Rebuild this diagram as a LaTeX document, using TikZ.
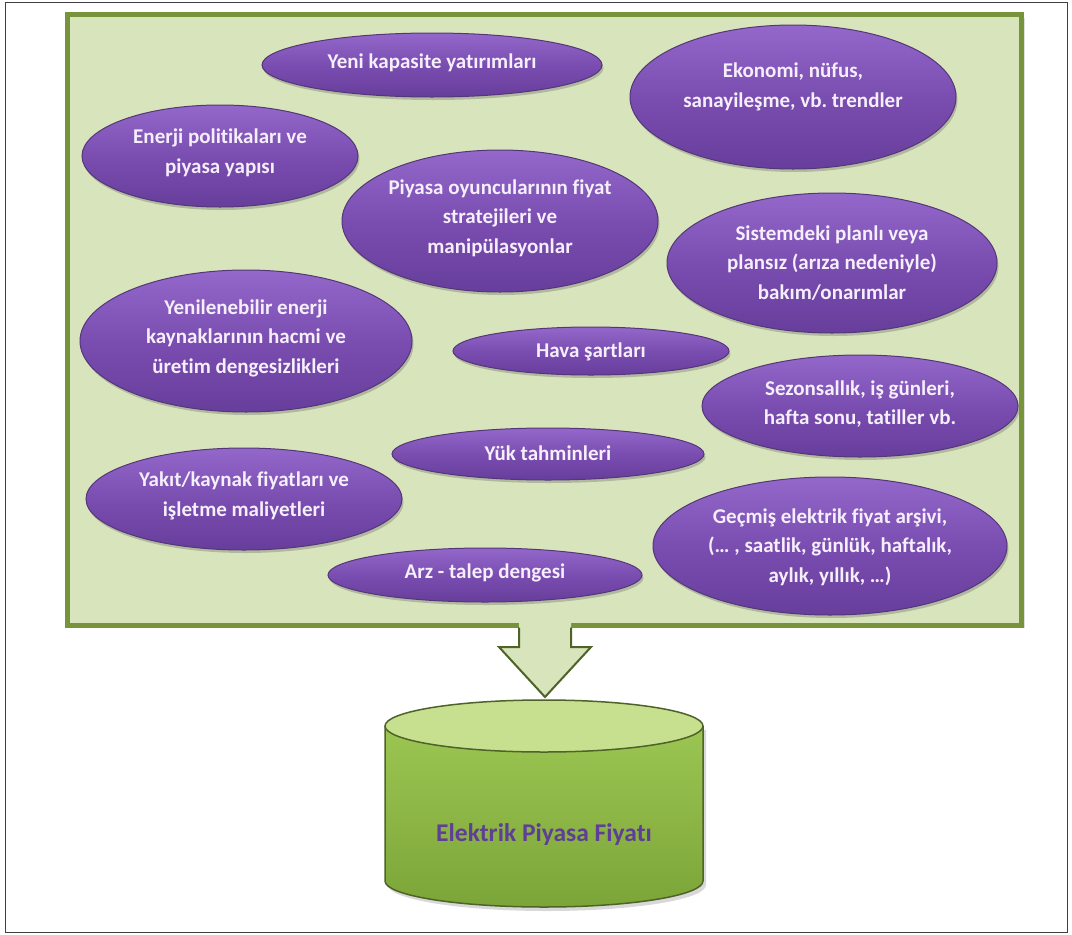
\documentclass[tikz,border=0pt]{standalone}
\usepackage{fontspec}
\setmainfont{Carlito}[Ligatures=NoCommon]
\frenchspacing
\usetikzlibrary{shapes.geometric,shadows,calc}
\definecolor{boxfill}{HTML}{D8E4BC}
\definecolor{boxline}{HTML}{77933C}
\definecolor{darkolive}{HTML}{4F6228}
\definecolor{bubtop}{HTML}{9468CA}
\definecolor{bubmid}{HTML}{7A4DB0}
\definecolor{bubbot}{HTML}{673E9C}
\definecolor{bubline}{HTML}{553779}
\definecolor{bubtext}{HTML}{F5EEFB}
\definecolor{cyltop}{HTML}{C6E08F}
\definecolor{cylbodytop}{HTML}{9CC652}
\definecolor{cylbodybot}{HTML}{7CA539}
\definecolor{pricetext}{HTML}{5E3F95}
\begin{document}
\frenchspacing
\begin{tikzpicture}[x=1pt,y=-1pt,
  bubble/.style={ellipse, draw=bubline, line width=1pt, top color=bubtop, bottom color=bubbot, middle color=bubmid, inner sep=0pt,
    drop shadow={shadow xshift=1.5pt, shadow yshift=-3pt, opacity=0.35, fill=black!60}},
  btext/.style={text=bubtext, font=\bfseries\fontsize{21}{29.5}\selectfont, align=center, inner sep=0pt},
  arrowline/.style={draw=darkolive, line width=2pt, line join=miter},
  cylline/.style={draw=darkolive, line width=1.5pt},
]
\useasboundingbox (0,0) rectangle (1072,935);
\fill[white] (0,0) rectangle (1072,935);
\draw[black!75, line width=1pt] (5,2) rectangle (1067,932);

% green frame
\draw[draw=boxline, line width=5pt, fill=boxfill, drop shadow={shadow xshift=3pt, shadow yshift=-3pt, opacity=0.25}] (67.5,14.5) rectangle (1021.5,625);

% bubbles
\node[bubble, minimum width=340pt, minimum height=64pt] (yeni) at (432,65) {};
\node[btext] (yeniT) at (432,63) {Yeni kapasite yatırımları};

\node[bubble, minimum width=326pt, minimum height=144pt] (ekon) at (793,97) {};
\node[btext] (ekonT) at (793,87) {Ekonomi, nüfus,\\sanayileşme, vb. trendler};

\node[bubble, minimum width=276pt, minimum height=102pt] (enerji) at (220,156) {};
\node[btext] (enerjiT) at (220,153) {Enerji politikaları ve\\piyasa yapısı};

\node[bubble, minimum width=316pt, minimum height=142pt] (piyasa) at (500,221) {};
\node[btext] (piyasaT) at (500,218) {Piyasa oyuncularının fiyat\\stratejileri ve\\manipülasyonlar};

\node[bubble, minimum width=330pt, minimum height=140pt] (sistem) at (832,263) {};
\node[btext] (sistemT) at (832,263) {Sistemdeki planlı veya\\plansız (arıza nedeniyle)\\bakım/onarımlar};

\node[bubble, minimum width=332pt, minimum height=142pt] (yenil) at (246,341) {};
\node[btext] (yenilT) at (246,338) {Yenilenebilir enerji\\kaynaklarının hacmi ve\\üretim dengesizlikleri};

\node[bubble, minimum width=276pt, minimum height=48pt] (hava) at (591,351) {};
\node[btext] (havaT) at (591,352) {Hava şartları};

\node[bubble, minimum width=316pt, minimum height=102pt] (sezon) at (860,406) {};
\node[btext] (sezonT) at (860,404) {Sezonsallık, iş günleri,\\hafta sonu, tatiller vb.};

\node[bubble, minimum width=312pt, minimum height=52pt] (yuk) at (548,454) {};
\node[btext] (yukT) at (548,453) {Yük tahminleri};

\node[bubble, minimum width=316pt, minimum height=102pt] (yakit) at (244,499) {};
\node[btext] (yakitT) at (244,496) {Yakıt/kaynak fiyatları ve\\işletme maliyetleri};

\node[bubble, minimum width=354pt, minimum height=138pt] (gecmis) at (830,546) {};
\node[btext] (gecmisT) at (830,547) {Geçmiş elektrik fiyat arşivi,\\(… , saatlik, günlük, haftalık,\\aylık, yıllık, …)};

\node[bubble, minimum width=314pt, minimum height=54pt] (arz) at (485,575) {};
\node[btext] (arzT) at (485,573) {Arz - talep dengesi};

% block arrow
\coordinate (arrowtop) at (545,625);
\coordinate (arrowtip) at (545,697);
\fill[boxfill] ($(arrowtop)+(-26,-7)$) -- ($(arrowtop)+(-26,22)$) -- ($(arrowtop)+(-46,22)$) -- (arrowtip)
  -- ($(arrowtop)+(46,22)$) -- ($(arrowtop)+(26,22)$) -- ($(arrowtop)+(26,-7)$) -- cycle;
\draw[arrowline] ($(arrowtop)+(-26,2.5)$) -- ($(arrowtop)+(-26,22)$) -- ($(arrowtop)+(-46,22)$) -- (arrowtip)
  -- ($(arrowtop)+(46,22)$) -- ($(arrowtop)+(26,22)$) -- ($(arrowtop)+(26,2.5)$);

% cylinder
\path[top color=cylbodytop, bottom color=cylbodybot, drop shadow={shadow xshift=3pt, shadow yshift=-4pt, opacity=0.3}]
  (385,726) -- (385,881) arc[start angle=180, end angle=360, x radius=159pt, y radius=26pt] -- (703,726) -- cycle;
\draw[cylline] (385,726) -- (385,881) arc[start angle=180, end angle=360, x radius=159pt, y radius=26pt] -- (703,726);
\draw[cylline, fill=cyltop] (544,726) ellipse[x radius=159pt, y radius=26pt];
\node[font=\bfseries\fontsize{25.5}{30}\selectfont, text=pricetext, inner sep=0pt] (price) at (544,835) {Elektrik Piyasa Fiyatı};
\end{tikzpicture}
\end{document}
